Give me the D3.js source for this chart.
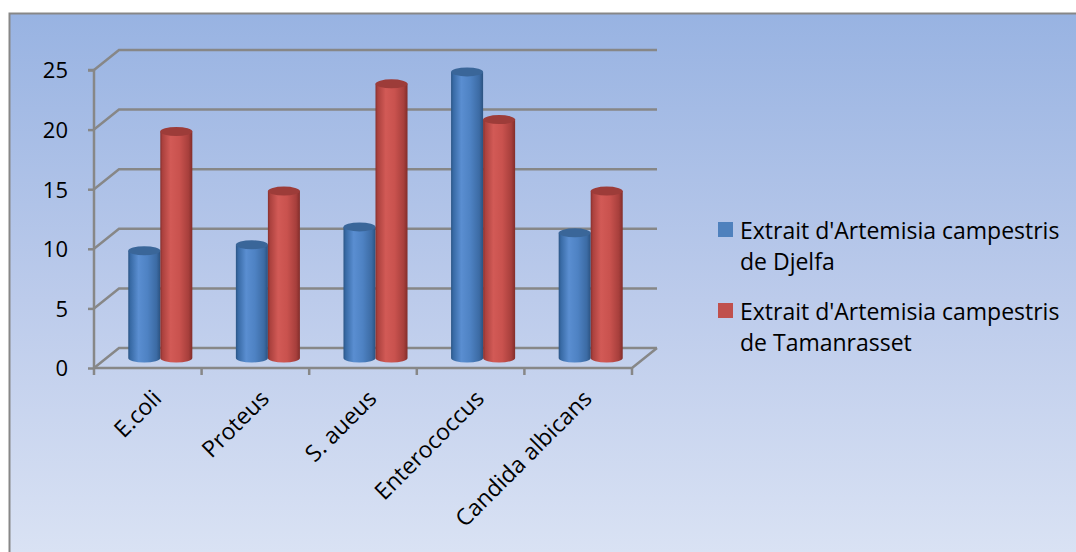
<!DOCTYPE html>
<html>
<head>
<meta charset="utf-8">
<script src="https://cdn.jsdelivr.net/npm/d3@7"></script>
<style>
  html, body { margin: 0; padding: 0; background: #ffffff; }
  svg { display: block; }
  text { font-family: "Open Sans", Lato, sans-serif; fill: #000; }
</style>
</head>
<body>
<svg id="chart" width="1076" height="552"></svg>
<script>
// Inhibition zones per microorganism for the two extracts
const categories = ["E.coli", "Proteus", "S. aueus", "Enterococcus", "Candida albicans"];
const seriesNames = [
  ["Extrait d'Artemisia campestris", "de Djelfa"],
  ["Extrait d'Artemisia campestris", "de Tamanrasset"]
];
const djelfa = [9, 9.5, 11, 24, 10.5];
const tamanrasset = [19, 14, 23, 20, 14];
const yTicks = [0, 5, 10, 15, 20, 25];

const seriesValues = [djelfa, tamanrasset];
const seriesKeys = ["djelfa", "tamanrasset"];

const svg = d3.select("#chart");
const W = 1076, H = 552;
const fontSize = "23px";
const tickFontSize = "22px";

// Depth offset of the back wall relative to the front plane
const depthX = 25, depthY = -20;

const y = d3.scaleLinear().domain([0, 25]).range([368, 70]);
const x = d3.scaleBand().domain(categories).range([94, 632]).paddingInner(0).paddingOuter(0);
const xs = d3.scaleBand().domain(seriesKeys).range([0, x.bandwidth()]).paddingInner(0).paddingOuter(0.68);

const defs = svg.append("defs");

// Chart area background
const bg = defs.append("linearGradient").attr("id", "bgGrad")
  .attr("x1", 0).attr("y1", 0).attr("x2", 0).attr("y2", 1);
bg.append("stop").attr("offset", "0%").attr("stop-color", "#98b3e2");
bg.append("stop").attr("offset", "50%").attr("stop-color", "#bccbeb");
bg.append("stop").attr("offset", "100%").attr("stop-color", "#dde5f5");

// Cylinder body shading
const palettes = {
  djelfa: {
    body: [["0%", "#2b5585"], ["7%", "#386aa5"], ["32%", "#5a8ed1"], ["60%", "#4e82c3"], ["88%", "#3c6ba4"], ["100%", "#2b5280"]],
    top: "#3a6699", legend: "#4f81bd"
  },
  tamanrasset: {
    body: [["0%", "#86302d"], ["7%", "#ab413e"], ["32%", "#d25a56"], ["60%", "#c9524e"], ["88%", "#a73f3c"], ["100%", "#822d2a"]],
    top: "#9d3c39", legend: "#c0504d"
  }
};
Object.entries(palettes).forEach(([k, p]) => {
  const g = defs.append("linearGradient").attr("id", "body-" + k)
    .attr("x1", 0).attr("y1", 0).attr("x2", 1).attr("y2", 0);
  p.body.forEach(([o, c]) => g.append("stop").attr("offset", o).attr("stop-color", c));
});

// Outer frame
svg.append("rect")
  .attr("x", 9.5).attr("y", 13.5).attr("width", W + 20).attr("height", H + 20)
  .attr("fill", "url(#bgGrad)").attr("stroke", "#878787").attr("stroke-width", 2);

const gridColor = "#878787";
const grid = svg.append("g").attr("stroke", gridColor).attr("stroke-width", 2.5).attr("fill", "none");

// Back wall gridlines and side-wall diagonals
yTicks.forEach(t => {
  const yy = y(t);
  grid.append("path")
    .attr("d", `M${x.range()[0]},${yy} L${x.range()[0] + depthX},${yy + depthY} L${x.range()[1] + depthX},${yy + depthY}`);
});

// Floor: front edge and right diagonal
grid.append("path")
  .attr("d", `M${x.range()[0]},${y(0)} L${x.range()[1]},${y(0)} L${x.range()[1] + depthX},${y(0) + depthY}`);

// Vertical axis line, ticks and labels
const yAxis = d3.axisLeft(y).tickValues(yTicks).tickSize(6).tickPadding(20).tickFormat(d3.format("d"));
const yG = svg.append("g").attr("transform", `translate(${x.range()[0]},0)`).call(yAxis);
yG.select(".domain").attr("stroke", gridColor).attr("stroke-width", 2.5)
  .attr("d", `M-6,${y(25)}H0V${y(0)}`);
yG.selectAll(".tick line").attr("stroke", gridColor).attr("stroke-width", 2.5);
yG.selectAll(".tick text").style("font-size", tickFontSize).attr("fill", "#000").attr("dy", "0.36em");

// Category boundary ticks under the floor
const bounds = categories.map(c => x(c)).concat([x.range()[1]]);
svg.append("g").attr("stroke", gridColor).attr("stroke-width", 2.5)
  .selectAll("line").data(bounds).join("line")
  .attr("x1", d => d).attr("x2", d => d)
  .attr("y1", y(0)).attr("y2", y(0) + 7);

// Category labels, rotated
const xAxis = d3.axisBottom(x).tickSize(0).tickPadding(0);
const xG = svg.append("g").attr("transform", `translate(0,${y(0)})`).call(xAxis);
xG.select(".domain").remove();
xG.selectAll(".tick text")
  .style("font-size", fontSize).attr("fill", "#000")
  .attr("text-anchor", "end")
  .attr("dy", 0).attr("y", 0)
  .attr("transform", "translate(15,32) rotate(-45)");

// Cylinders at mid depth
const rx = xs.bandwidth() / 2, ry = 4.5;
const cyl = svg.append("g");
categories.forEach((c, i) => {
  seriesKeys.forEach((k, s) => {
    const v = seriesValues[s][i];
    const cx = x(c) + xs(k) + rx + depthX / 2;
    const baseY = y(0) + depthY / 2;
    const topY = y(v) + depthY / 2;
    const g = cyl.append("g");
    g.append("path")
      .attr("d", `M${cx - rx},${topY} L${cx - rx},${baseY} A${rx},${ry} 0 0 0 ${cx + rx},${baseY} L${cx + rx},${topY} Z`)
      .attr("fill", `url(#body-${k})`);
    g.append("ellipse")
      .attr("cx", cx).attr("cy", topY).attr("rx", rx).attr("ry", ry)
      .attr("fill", palettes[k].top);
  });
});

// Legend
const legend = svg.append("g");
const legendRows = [
  { key: "djelfa", y: 222 },
  { key: "tamanrasset", y: 303 }
];
legendRows.forEach((r, s) => {
  legend.append("rect").attr("x", 718).attr("y", r.y).attr("width", 15).attr("height", 15)
    .attr("fill", palettes[r.key].legend);
  const t = legend.append("text").attr("x", 740).attr("y", r.y + 17).style("font-size", fontSize);
  seriesNames[s].forEach((line, j) => {
    t.append("tspan").attr("x", 740).attr("dy", j === 0 ? 0 : 31).text(line);
  });
});
</script>
</body>
</html>
